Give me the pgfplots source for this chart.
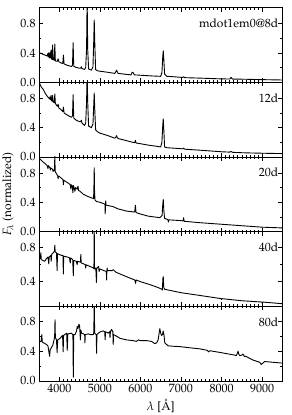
\documentclass[border=0pt]{standalone}
\usepackage[T1]{fontenc}
\usepackage{mathpazo}
\usepackage{pgfplots}
\pgfplotsset{compat=1.18}
\begin{document}
\begin{tikzpicture}[font=\fontsize{12}{14}\selectfont]
\pgfplotsset{panel/.style={
  width=243pt, height=74.6pt, scale only axis,
  xmin=3500, xmax=9500,
  xtick={4000,5000,6000,7000,8000,9000}, minor x tick num=9,
  ytick={0,0.4,0.8}, minor y tick num=1,
  tick align=inside, major tick length=4pt, minor tick length=2pt,
  scaled ticks=false,
  xticklabel style={/pgf/number format/1000 sep={}},
  yticklabel style={/pgf/number format/.cd, fixed, fixed zerofill, precision=1},
  tick label style={font=\fontsize{12}{14}\selectfont},
  label style={font=\fontsize{12}{14}\selectfont},
  axis line style={line width=0.6pt},
  every tick/.style={black, line width=0.5pt},
  clip=true,
  cycle list={{black, line width=0.9pt, mark=none}},
}}
\path[use as bounding box] (-39pt,-34pt) rectangle (252pt,380.5pt);
% panel 1
\begin{axis}[panel, at={(0pt,298.4pt)}, ymin=0, ymax=1.02, xticklabels={}]
\addplot[black, line width=0.9pt, mark=none, line join=round] coordinates {(3500,0.40)(3550,0.395)(3600,0.38)(3650,0.37)(3690,0.36)(3700,0.36)(3712,0.39)(3722,0.35)(3734,0.40)(3745,0.34)(3750,0.38)(3760,0.33)(3771,0.41)(3782,0.33)(3798,0.44)(3808,0.32)(3822,0.31)(3835,0.51)(3847,0.31)(3875,0.30)(3889,0.52)(3902,0.29)(3950,0.285)(3970,0.32)(3988,0.28)(4050,0.26)(4085,0.255)(4101,0.37)(4117,0.25)(4200,0.23)(4300,0.215)(4325,0.23)(4340,0.54)(4356,0.22)(4400,0.205)(4500,0.19)(4525,0.19)(4542,0.21)(4560,0.185)(4620,0.175)(4650,0.20)(4672,0.45)(4686,1.15)(4700,0.45)(4722,0.18)(4790,0.165)(4830,0.21)(4848,0.55)(4861,0.85)(4874,0.55)(4895,0.17)(4950,0.155)(5000,0.15)(5200,0.135)(5370,0.12)(5395,0.145)(5411,0.165)(5428,0.145)(5450,0.12)(5600,0.11)(5770,0.10)(5795,0.135)(5815,0.135)(5850,0.10)(6000,0.095)(6300,0.085)(6500,0.08)(6530,0.13)(6550,0.34)(6563,0.43)(6576,0.32)(6596,0.11)(6650,0.08)(6800,0.075)(7040,0.065)(7065,0.075)(7090,0.062)(7500,0.055)(7900,0.047)(8200,0.043)(8237,0.065)(8270,0.043)(8600,0.04)(9000,0.035)(9500,0.03)};
\node[anchor=east, inner sep=0pt] at ([xshift=-4pt]rel axis cs:1,0.79) {mdot1em0@8d};
\end{axis}
% panel 2
\begin{axis}[panel, at={(0pt,223.8pt)}, ymin=0, ymax=1.02, xticklabels={}]
\addplot[black, line width=0.9pt, mark=none, line join=round] coordinates {(3500,1.02)(3525,0.99)(3560,0.95)(3606,0.92)(3650,0.87)(3700,0.83)(3730,0.81)(3760,0.79)(3771,0.82)(3782,0.78)(3798,0.84)(3808,0.77)(3822,0.76)(3835,0.84)(3847,0.75)(3875,0.74)(3889,0.86)(3902,0.73)(3950,0.69)(3970,0.72)(3988,0.67)(4050,0.64)(4085,0.62)(4101,0.68)(4117,0.60)(4200,0.57)(4300,0.54)(4325,0.56)(4340,0.85)(4356,0.53)(4420,0.50)(4500,0.48)(4525,0.48)(4542,0.50)(4560,0.46)(4620,0.43)(4650,0.46)(4672,0.75)(4686,1.15)(4700,0.75)(4722,0.42)(4790,0.40)(4830,0.45)(4848,0.70)(4861,0.87)(4874,0.65)(4895,0.37)(4950,0.34)(5000,0.325)(5200,0.29)(5370,0.255)(5395,0.27)(5411,0.29)(5428,0.265)(5450,0.25)(5600,0.23)(5800,0.20)(5860,0.195)(5876,0.225)(5892,0.19)(6000,0.18)(6200,0.16)(6400,0.145)(6500,0.135)(6530,0.20)(6550,0.42)(6563,0.52)(6576,0.38)(6596,0.135)(6650,0.125)(6800,0.12)(7040,0.11)(7065,0.12)(7090,0.105)(7500,0.09)(8000,0.07)(8200,0.065)(8237,0.075)(8270,0.062)(8600,0.055)(9000,0.05)(9500,0.045)};
\node[anchor=east, inner sep=0pt] at ([xshift=-4pt]rel axis cs:1,0.79) {12d};
\end{axis}
% panel 3
\begin{axis}[panel, at={(0pt,149.2pt)}, ymin=0, ymax=1.02, xticklabels={}, ylabel={$F_\lambda$ (normalized)}]
\addplot[black, line width=0.9pt, mark=none, line join=round] coordinates {(3500,1.0)(3525,0.99)(3560,0.97)(3600,0.95)(3648,0.93)(3700,0.90)(3720,0.86)(3730,0.90)(3771,0.87)(3780,0.84)(3790,0.87)(3835,0.85)(3845,0.82)(3860,0.84)(3880,0.83)(3889,1.05)(3898,0.82)(3930,0.79)(3960,0.76)(3970,0.72)(3980,0.76)(4050,0.73)(4090,0.71)(4101,0.64)(4112,0.70)(4200,0.67)(4270,0.64)(4285,0.58)(4295,0.64)(4320,0.62)(4335,0.53)(4345,0.63)(4360,0.61)(4385,0.55)(4400,0.60)(4440,0.58)(4460,0.62)(4475,0.56)(4500,0.555)(4591,0.51)(4700,0.48)(4800,0.46)(4845,0.45)(4853,0.60)(4861,0.87)(4869,0.55)(4880,0.43)(4919,0.41)(5000,0.40)(5100,0.38)(5125,0.37)(5132,0.24)(5138,0.37)(5145,0.42)(5152,0.36)(5250,0.35)(5330,0.34)(5450,0.31)(5658,0.28)(5800,0.27)(5860,0.27)(5876,0.36)(5892,0.26)(6000,0.24)(6200,0.21)(6480,0.19)(6535,0.22)(6550,0.36)(6563,0.44)(6576,0.30)(6596,0.18)(6650,0.17)(6680,0.16)(6690,0.13)(6700,0.16)(7000,0.15)(7050,0.145)(7065,0.19)(7080,0.14)(7500,0.12)(8000,0.10)(8500,0.08)(9000,0.06)(9500,0.05)};
\node[anchor=east, inner sep=0pt] at ([xshift=-4pt]rel axis cs:1,0.79) {20d};
\end{axis}
% panel 4
\begin{axis}[panel, at={(0pt,74.6pt)}, ymin=0.11, ymax=0.99, ytick={0.4,0.8}, xticklabels={}]
\addplot[black, line width=0.9pt, mark=none, line join=round] coordinates {(3500,0.67)(3530,0.67)(3545,0.74)(3555,0.66)(3600,0.65)(3640,0.64)(3680,0.67)(3720,0.69)(3740,0.61)(3750,0.69)(3790,0.71)(3800,0.64)(3810,0.72)(3850,0.74)(3880,0.76)(3889,0.83)(3898,0.75)(3930,0.74)(3945,0.53)(3955,0.73)(4000,0.72)(4050,0.71)(4090,0.71)(4099,0.49)(4108,0.70)(4200,0.69)(4250,0.68)(4270,0.62)(4280,0.68)(4330,0.66)(4345,0.47)(4355,0.65)(4420,0.64)(4440,0.60)(4450,0.64)(4520,0.63)(4530,0.72)(4540,0.62)(4600,0.61)(4640,0.60)(4650,0.56)(4660,0.60)(4700,0.59)(4800,0.57)(4840,0.56)(4853,0.55)(4861,1.05)(4869,0.55)(4900,0.56)(4915,0.39)(4925,0.56)(4970,0.58)(4980,0.52)(5000,0.55)(5100,0.53)(5160,0.52)(5166,0.42)(5172,0.52)(5180,0.56)(5190,0.53)(5300,0.53)(5330,0.54)(5400,0.51)(5500,0.49)(5700,0.45)(5860,0.42)(5880,0.38)(5895,0.42)(6000,0.40)(6234,0.365)(6440,0.33)(6530,0.31)(6540,0.30)(6555,0.44)(6563,0.46)(6575,0.33)(6600,0.31)(6700,0.30)(7000,0.27)(7500,0.235)(7990,0.20)(8000,0.19)(8010,0.20)(8500,0.175)(8990,0.16)(9000,0.15)(9010,0.16)(9500,0.14)};
\node[anchor=east, inner sep=0pt] at ([xshift=-4pt]rel axis cs:1,0.79) {40d};
\end{axis}
% panel 5
\begin{axis}[panel, at={(0pt,0pt)}, ymin=0, ymax=1.0, xlabel={$\lambda$ [\AA]}]
\addplot[black, line width=0.9pt, mark=none, line join=round] coordinates {(3500,0.52)(3550,0.53)(3568,0.62)(3580,0.52)(3610,0.51)(3650,0.50)(3700,0.48)(3720,0.47)(3740,0.40)(3760,0.33)(3775,0.42)(3800,0.44)(3840,0.48)(3870,0.55)(3885,0.60)(3894,0.82)(3903,0.58)(3930,0.55)(3945,0.38)(3960,0.55)(4017,0.57)(4080,0.61)(4095,0.39)(4105,0.61)(4181,0.64)(4195,0.41)(4210,0.63)(4300,0.64)(4335,0.62)(4345,0.05)(4355,0.62)(4386,0.62)(4420,0.66)(4443,0.73)(4460,0.70)(4484,0.76)(4500,0.74)(4520,0.55)(4530,0.68)(4550,0.64)(4600,0.63)(4625,0.62)(4632,0.51)(4640,0.62)(4714,0.63)(4780,0.62)(4837,0.62)(4850,0.65)(4861,1.05)(4872,0.64)(4910,0.62)(4919,0.37)(4928,0.62)(4960,0.64)(5020,0.66)(5083,0.67)(5120,0.66)(5130,0.55)(5140,0.66)(5206,0.64)(5240,0.66)(5250,0.58)(5260,0.66)(5288,0.69)(5320,0.66)(5329,0.49)(5338,0.62)(5411,0.60)(5500,0.57)(5658,0.55)(5822,0.54)(5900,0.53)(5950,0.55)(6000,0.54)(6150,0.54)(6273,0.53)(6355,0.50)(6400,0.51)(6437,0.55)(6478,0.70)(6500,0.64)(6519,0.61)(6545,0.62)(6560,0.67)(6580,0.62)(6601,0.51)(6683,0.47)(6800,0.465)(6970,0.46)(7200,0.445)(7462,0.43)(7650,0.41)(7680,0.39)(7709,0.405)(7980,0.38)(8284,0.35)(8366,0.34)(8390,0.37)(8407,0.40)(8425,0.36)(8448,0.34)(8500,0.345)(8530,0.36)(8560,0.33)(8596,0.33)(8777,0.28)(8941,0.25)(8980,0.22)(9000,0.23)(9064,0.26)(9269,0.25)(9482,0.24)(9500,0.24)};
\node[anchor=east, inner sep=0pt] at ([xshift=-4pt]rel axis cs:1,0.79) {80d};
\end{axis}
\end{tikzpicture}
\end{document}
